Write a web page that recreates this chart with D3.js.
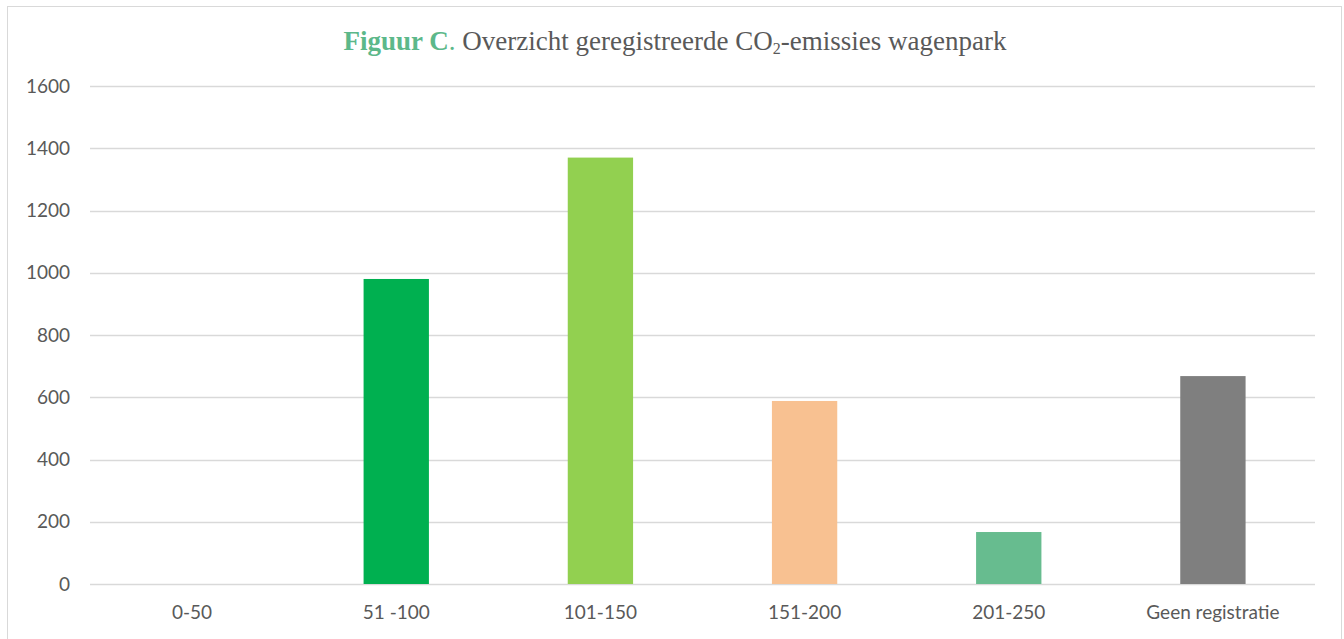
<!DOCTYPE html>
<html>
<head>
<meta charset="utf-8">
<script src="https://cdn.jsdelivr.net/npm/d3@7"></script>
<style>
  body { margin: 0; background: #fff; }
  svg { display: block; }
</style>
</head>
<body>
<div id="chart"></div>
<script>
const categories = ["0-50", "51 -100", "101-150", "151-200", "201-250", "Geen registratie"];
const counts = [0, 980, 1370, 588, 167, 668];
const barColors = ["#00b050", "#00b050", "#92d050", "#f8c191", "#67bc8f", "#7f7f7f"];
const yTicks = [0, 200, 400, 600, 800, 1000, 1200, 1400, 1600];

const width = 1344, height = 639;
const margin = { top: 86, right: 29, bottom: 55, left: 90 };

const svg = d3.select("#chart")
    .append("svg")
    .attr("width", width)
    .attr("height", height);

// outer frame
svg.append("rect")
    .attr("x", 7.5).attr("y", 6.5)
    .attr("width", 1334).attr("height", 640)
    .attr("fill", "none")
    .attr("stroke", "#d9d9d9");

const x = d3.scaleBand()
    .domain(categories)
    .range([margin.left, width - margin.right])
    .paddingInner(0.68)
    .paddingOuter(0.34);

const y = d3.scaleLinear()
    .domain([0, 1600])
    .range([height - margin.bottom, margin.top]);

// gridlines
svg.append("g")
    .selectAll("line")
    .data(yTicks)
    .join("line")
    .attr("x1", margin.left)
    .attr("x2", width - margin.right)
    .attr("y1", d => Math.round(y(d)) + 0.5)
    .attr("y2", d => Math.round(y(d)) + 0.5)
    .attr("stroke", "#d9d9d9")
    .attr("stroke-width", 1.5);

// y labels
svg.append("g")
    .selectAll("text")
    .data(yTicks)
    .join("text")
    .attr("x", 70)
    .attr("y", d => y(d))
    .attr("dy", "0.35em")
    .attr("text-anchor", "end")
    .attr("fill", "#595959")
    .style("font", "19px Lato, 'Open Sans', sans-serif")
    .text(d => d);

// bars
svg.append("g")
    .selectAll("rect")
    .data(categories)
    .join("rect")
    .attr("x", d => x(d))
    .attr("width", x.bandwidth())
    .attr("y", (d, i) => y(counts[i]))
    .attr("height", (d, i) => y(0) - y(counts[i]))
    .attr("fill", (d, i) => barColors[i]);

// x labels
svg.append("g")
    .selectAll("text")
    .data(categories)
    .join("text")
    .attr("x", d => x(d) + x.bandwidth() / 2)
    .attr("y", 619)
    .attr("text-anchor", "middle")
    .attr("fill", "#595959")
    .style("font", "19px Lato, 'Open Sans', sans-serif")
    .text(d => d);

// title
const title = svg.append("text")
    .attr("x", 675)
    .attr("y", 50)
    .attr("text-anchor", "middle")
    .style("font", "27px 'Liberation Serif', 'DejaVu Serif', serif");
title.append("tspan").attr("fill", "#5cb88a").attr("font-weight", "bold").text("Figuur C");
title.append("tspan").attr("fill", "#5cb88a").text(".");
title.append("tspan").attr("fill", "#595959").text(" Overzicht geregistreerde CO");
title.append("tspan").attr("fill", "#595959").attr("font-size", "16px").attr("dy", 4).text("2");
title.append("tspan").attr("fill", "#595959").attr("dy", -4).text("-emissies wagenpark");
</script>
</body>
</html>
